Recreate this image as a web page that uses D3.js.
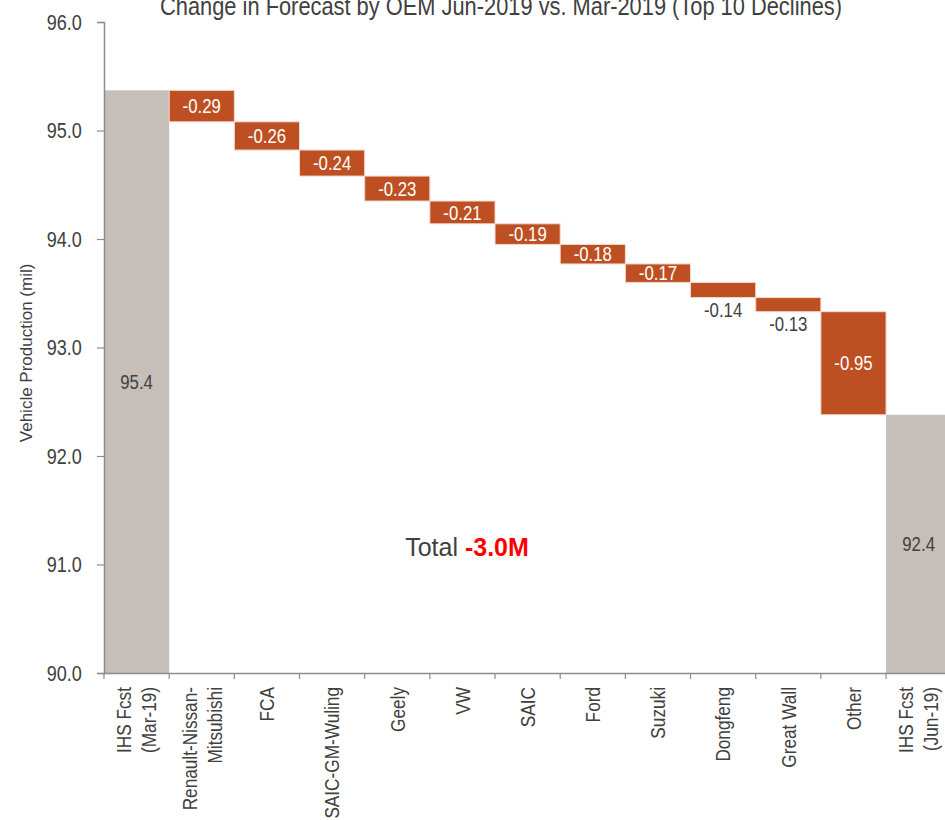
<!DOCTYPE html>
<html>
<head>
<meta charset="utf-8">
<script src="https://cdn.jsdelivr.net/npm/d3@7"></script>
<style>
  body { margin: 0; background: #fff; }
  text { font-family: "Liberation Sans", Arial, sans-serif; }
</style>
</head>
<body>
<div id="chart-div"></div>
<script>
// data
const categories = ["IHS Fcst\n(Mar-19)", "Renault-Nissan-\nMitsubishi", "FCA", "SAIC-GM-Wuling", "Geely", "VW",
    "SAIC", "Ford", "Suzuki", "Dongfeng", "Great Wall", "Other", "IHS Fcst\n(Jun-19)"]
const startValue = 95.37
const deltas = [-0.29, -0.26, -0.24, -0.23, -0.21, -0.19, -0.18, -0.17, -0.14, -0.13, -0.95]
const yTicks = [90, 91, 92, 93, 94, 95, 96]
const titleText = "Change in Forecast by OEM Jun-2019 vs. Mar-2019 (Top 10 Declines)"
const totalText = "-3.0M"

const WIDTH = 945
const HEIGHT = 820
const MARGIN_TOP = 22
const MARGIN_LEFT = 104
const MARGIN_BOTTOM = 147
const STEP = 65.17
const SQUEEZE = 0.82   // the chart's font is a narrow one, no narrow font here so scale x

const GREY = "#c6beb8"
const ORANGE = "#be4f22"
const TEXT = "#404040"

// build waterfall rows
let rows = []
let running = startValue
rows.push({cat: categories[0], y0: 90, y1: startValue, label: startValue.toFixed(1), total: true})
deltas.forEach(function(d, i){
    rows.push({cat: categories[i + 1], y0: running + d, y1: running, label: d.toFixed(2), total: false})
    running = running + d
})
rows.push({cat: categories[categories.length - 1], y0: 90, y1: running, label: running.toFixed(1), total: true})

const svg = d3.select("#chart-div").append("svg")
    .attr("width", WIDTH)
    .attr("height", HEIGHT)

const x = d3.scaleBand()
    .domain(categories)
    .range([MARGIN_LEFT, MARGIN_LEFT + STEP * categories.length])
    .padding(0)

const y = d3.scaleLinear()
    .domain([90, 96])
    .range([HEIGHT - MARGIN_BOTTOM, MARGIN_TOP])

// bars
svg.selectAll("rect.bar")
    .data(rows)
    .enter()
    .append("rect")
    .attr("class", "bar")
    .attr("x", d => x(d.cat))
    .attr("y", d => y(d.y1))
    .attr("width", x.bandwidth())
    .attr("height", d => y(d.y0) - y(d.y1))
    .style("fill", d => d.total ? GREY : ORANGE)
    .style("stroke", d => d.total ? "none" : "#f3d9cd")
    .style("stroke-width", 1)

// value labels
svg.selectAll("text.val")
    .data(rows)
    .enter()
    .append("text")
    .attr("class", "val")
    .attr("transform", function(d){
        let h = y(d.y0) - y(d.y1)
        let cy = h < 17 ? y(d.y0) + 12 : (y(d.y0) + y(d.y1)) / 2
        return `translate(${x(d.cat) + x.bandwidth() / 2},${cy}) scale(${SQUEEZE},1)`
    })
    .attr("text-anchor", "middle")
    .attr("dominant-baseline", "central")
    .style("font-size", "20.5px")
    .style("fill", function(d){
        let h = y(d.y0) - y(d.y1)
        if (d.total || h < 17) return TEXT
        return "#fff"
    })
    .text(d => d.label)

// y axis
const yAxis = svg.append("g")
    .attr("transform", `translate(${MARGIN_LEFT},0)`)
    .call(d3.axisLeft(y).tickValues(yTicks).tickFormat(d3.format(".1f")).tickSize(7).tickPadding(20))
yAxis.select(".domain").attr("stroke", "#8c8c8c").attr("stroke-width", 1.5)
yAxis.selectAll(".tick line").attr("stroke", "#8c8c8c").attr("stroke-width", 1.2)
yAxis.selectAll(".tick text")
    .attr("transform", `scale(${SQUEEZE},1)`)
    .style("font-size", "22px")
    .attr("fill", TEXT)

// x axis
const xAxis = svg.append("g")
    .attr("transform", `translate(0,${HEIGHT - MARGIN_BOTTOM})`)
    .call(d3.axisBottom(x).tickSize(0).tickFormat(""))
xAxis.select(".domain").attr("stroke", "#8c8c8c").attr("stroke-width", 1.5)

// ticks at band edges
svg.append("g")
    .selectAll("line")
    .data(categories)
    .enter()
    .append("line")
    .attr("x1", d => x(d))
    .attr("x2", d => x(d))
    .attr("y1", HEIGHT - MARGIN_BOTTOM)
    .attr("y2", HEIGHT - MARGIN_BOTTOM + 6)
    .attr("stroke", "#8c8c8c")
    .attr("stroke-width", 1.2)

// rotated category labels
const lineGap = 25
svg.append("g")
    .selectAll("text")
    .data(categories)
    .enter()
    .append("text")
    .attr("transform", function(d){
        let cx = x(d) + x.bandwidth() / 2
        return `translate(${cx},${HEIGHT - MARGIN_BOTTOM + 14}) rotate(-90) scale(${SQUEEZE},1)`
    })
    .attr("text-anchor", "end")
    .style("font-size", "21px")
    .style("fill", TEXT)
    .each(function(d){
        let lines = d.split("\n")
        let off = -(lines.length - 1) * lineGap / 2
        let t = d3.select(this)
        lines.forEach(function(l, i){
            t.append("tspan")
                .attr("x", 0)
                .attr("y", off + i * lineGap)
                .attr("dy", "0.35em")
                .text(l)
        })
    })

// y axis title
svg.append("text")
    .attr("transform", `translate(32,${y(92.95)}) rotate(-90)`)
    .attr("text-anchor", "middle")
    .style("font-size", "17px")
    .style("fill", TEXT)
    .text("Vehicle Production (mil)")

// title (clipped at top like the picture)
svg.append("text")
    .attr("transform", `translate(501,15) scale(0.84,1)`)
    .attr("text-anchor", "middle")
    .style("font-size", "26px")
    .style("fill", TEXT)
    .text(titleText)

// total annotation
const tot = svg.append("text")
    .attr("x", 467)
    .attr("y", y(91.08))
    .attr("text-anchor", "middle")
    .style("font-size", "25px")
    .style("fill", TEXT)
tot.append("tspan").text("Total ")
tot.append("tspan").style("fill", "#ff0000").style("font-weight", "bold").text(totalText)
</script>
</body>
</html>
